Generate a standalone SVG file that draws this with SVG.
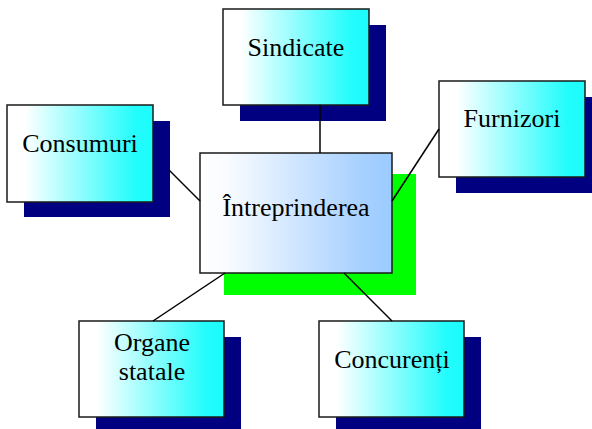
<svg xmlns="http://www.w3.org/2000/svg" width="592" height="429" viewBox="0 0 592 429">
  <defs>
    <linearGradient id="gCyan" x1="0" y1="0" x2="1" y2="0">
      <stop offset="0" stop-color="#ffffff"/>
      <stop offset="0.12" stop-color="#ffffff"/>
      <stop offset="0.88" stop-color="#22fcfc"/>
      <stop offset="1" stop-color="#1cfcfc"/>
    </linearGradient>
    <linearGradient id="gBlue" x1="0" y1="0" x2="1" y2="0">
      <stop offset="0" stop-color="#ffffff"/>
      <stop offset="0.15" stop-color="#f8fbff"/>
      <stop offset="0.85" stop-color="#a6d0ff"/>
      <stop offset="1" stop-color="#9ccbff"/>
    </linearGradient>
  </defs>
  <style>
    .shadow { fill: #000080; }
    .box { fill: url(#gCyan); stroke: #1a1a1a; stroke-width: 1.5; }
    .center { fill: url(#gBlue); stroke: #1a1a1a; stroke-width: 1.5; }
    .label { font-family: "Liberation Serif", "Times New Roman", serif; font-size: 26px; fill: #000; text-anchor: middle; }
    .link { stroke: #000; stroke-width: 1.5; fill: none; }
  </style>

  <g id="intreprinderea">
    <rect x="224" y="174" width="192" height="121" fill="#00ff00"/>
    <rect class="center" x="200" y="153" width="192" height="120"/>
    <text class="label" x="296" y="216">Întreprinderea</text>
  </g>

  <g id="sindicate">
    <rect class="shadow" x="240" y="25" width="146" height="96"/>
    <rect class="box" x="223" y="9" width="146" height="96"/>
    <text class="label" x="296" y="56">Sindicate</text>
  </g>

  <g id="consumuri">
    <rect class="shadow" x="24" y="121" width="146" height="96"/>
    <rect class="box" x="7" y="105" width="146" height="97"/>
    <text class="label" x="80" y="152">Consumuri</text>
  </g>

  <g id="furnizori">
    <rect class="shadow" x="456" y="97" width="146" height="96"/>
    <rect class="box" x="439" y="81" width="146" height="96"/>
    <text class="label" x="512" y="127">Furnizori</text>
  </g>

  <g id="organe-statale">
    <rect class="shadow" x="96" y="337" width="145" height="96"/>
    <rect class="box" x="79" y="321" width="145" height="96"/>
    <text class="label" x="152" y="351">Organe</text>
    <text class="label" x="152" y="380">statale</text>
  </g>

  <g id="concurenti">
    <rect class="shadow" x="336" y="337" width="145" height="96"/>
    <rect class="box" x="319" y="321" width="145" height="96"/>
    <text class="label" x="392" y="368">Concurenți</text>
  </g>

  <!-- connectors, drawn over the node shadows -->
  <g id="connectors">
    <line class="link" x1="320" y1="105" x2="320" y2="153"/>
    <line class="link" x1="169" y1="170" x2="200" y2="201"/>
    <line class="link" x1="392" y1="201" x2="439" y2="129"/>
    <line class="link" x1="225" y1="273" x2="153" y2="321"/>
    <line class="link" x1="344" y1="273" x2="392" y2="321"/>
  </g>
</svg>
